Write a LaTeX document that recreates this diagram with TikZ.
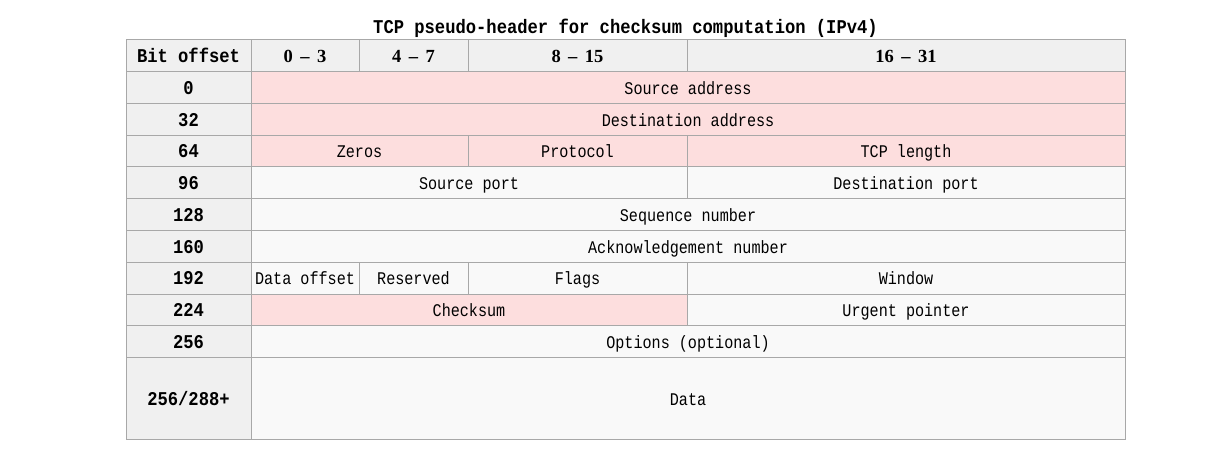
\documentclass[tikz,border=0pt]{standalone}
\usepackage{fontspec}
\newfontfamily\cellfont[FakeStretch=0.85]{Liberation Mono}
\newfontfamily\headfont[FakeStretch=0.88]{Liberation Mono}
\newfontfamily\rangefont{Liberation Serif}
\definecolor{tableline}{RGB}{168,168,168}
\definecolor{headgrey}{RGB}{240,240,240}
\definecolor{pinkcell}{RGB}{253,222,222}
\definecolor{whitecell}{RGB}{249,249,249}
\newcommand{\bitrange}[2]{#1\hspace{0.4em}–\hspace{0.4em}#2}

\begin{document}
\begin{tikzpicture}[x=1pt, y=-1pt,
  cell/.style={draw=tableline, line width=1pt, outer sep=0pt, inner sep=0pt,
    anchor=north west, minimum height=31.75pt, text height=16pt, text depth=2.5pt,
    font=\cellfont\fontsize{17.8}{20}\selectfont},
  hcell/.style={cell, fill=headgrey, font=\headfont\bfseries\fontsize{19.5}{22}\selectfont},
  rcell/.style={hcell, font=\rangefont\bfseries\fontsize{18.5}{22}\selectfont},
  pcell/.style={cell, fill=pinkcell},
  wcell/.style={cell, fill=whitecell}]
\useasboundingbox (0,0) rectangle (1229,473);

\node[font=\headfont\bfseries\fontsize{19.5}{22}\selectfont] (title) at (625.5,28) {TCP pseudo-header for checksum computation (IPv4)};

% header row
\node[hcell, minimum width=125pt] (bitoff) at (126,40) {Bit offset};
\node[rcell, minimum width=108pt] (r0) at (251,40) {\bitrange{0}{3}};
\node[rcell, minimum width=109pt] (r4) at (359,40) {\bitrange{4}{7}};
\node[rcell, minimum width=219pt] (r8) at (468,40) {\bitrange{8}{15}};
\node[rcell, minimum width=438pt] (r16) at (687,40) {\bitrange{16}{31}};

% offsets
\node[hcell, minimum width=125pt] (o0) at (126,71.75) {0};
\node[hcell, minimum width=125pt] (o32) at (126,103.5) {32};
\node[hcell, minimum width=125pt] (o64) at (126,135.25) {64};
\node[hcell, minimum width=125pt] (o96) at (126,167) {96};
\node[hcell, minimum width=125pt] (o128) at (126,198.75) {128};
\node[hcell, minimum width=125pt] (o160) at (126,230.5) {160};
\node[hcell, minimum width=125pt] (o192) at (126,262.25) {192};
\node[hcell, minimum width=125pt] (o224) at (126,294) {224};
\node[hcell, minimum width=125pt] (o256) at (126,325.75) {256};
\node[hcell, minimum width=125pt, minimum height=82pt] (o288) at (126,357.5) {256/288+};

% pseudo-header and TCP header fields
\node[pcell, minimum width=874pt] (srcaddr) at (251,71.75) {Source address};
\node[pcell, minimum width=874pt] (dstaddr) at (251,103.5) {Destination address};
\node[pcell, minimum width=217pt] (zeros) at (251,135.25) {Zeros};
\node[pcell, minimum width=219pt] (proto) at (468,135.25) {Protocol};
\node[pcell, minimum width=438pt] (tcplen) at (687,135.25) {TCP length};
\node[wcell, minimum width=436pt] (srcport) at (251,167) {Source port};
\node[wcell, minimum width=438pt] (dstport) at (687,167) {Destination port};
\node[wcell, minimum width=874pt] (seq) at (251,198.75) {Sequence number};
\node[wcell, minimum width=874pt] (ack) at (251,230.5) {Acknowledgement number};
\node[wcell, minimum width=108pt] (dataoff) at (251,262.25) {Data offset};
\node[wcell, minimum width=109pt] (resv) at (359,262.25) {Reserved};
\node[wcell, minimum width=219pt] (flags) at (468,262.25) {Flags};
\node[wcell, minimum width=438pt] (window) at (687,262.25) {Window};
\node[pcell, minimum width=436pt] (chksum) at (251,294) {Checksum};
\node[wcell, minimum width=438pt] (urgent) at (687,294) {Urgent pointer};
\node[wcell, minimum width=874pt] (options) at (251,325.75) {Options (optional)};
\node[wcell, minimum width=874pt, minimum height=82pt] (data) at (251,357.5) {Data};
\end{tikzpicture}
\end{document}
